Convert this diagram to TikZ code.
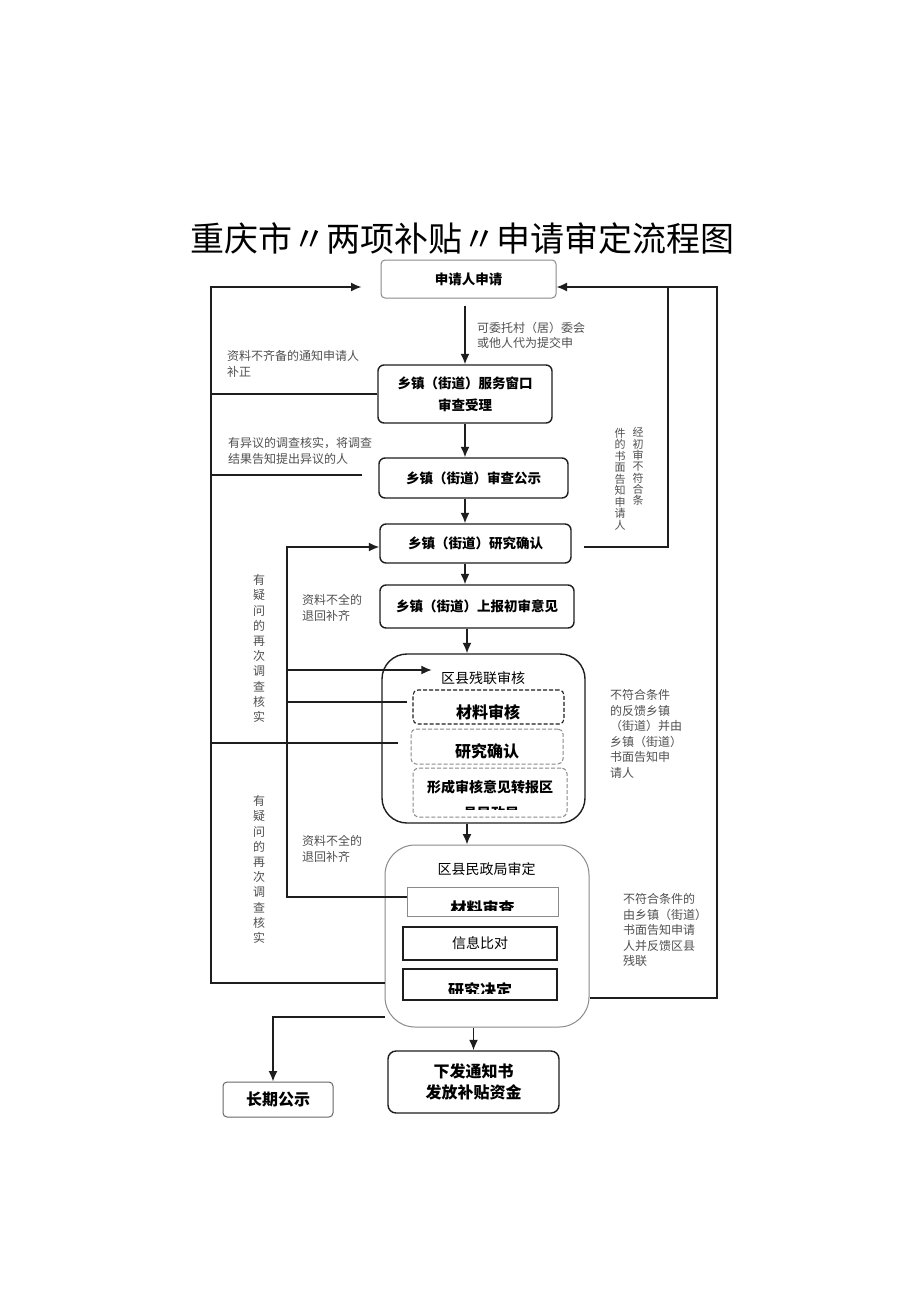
\documentclass[tikz,border=0pt]{standalone}
\usepackage{fontspec}
\setmainfont{Noto Sans CJK SC}
\usetikzlibrary{arrows.meta,calc}
\definecolor{lbl}{HTML}{505050}
\definecolor{dk}{HTML}{1E1E1E}
\definecolor{gy}{HTML}{8A8A8A}
\begin{document}
\begin{tikzpicture}[x=1pt,y=-1pt,
  conn/.style={draw=dk,line width=1.4pt},
  arr/.style={conn,-{Latex[length=10.5pt,width=9pt]}},
  box/.style={draw=dk,line width=1.4pt,rounded corners=6pt,inner sep=0pt,align=center},
  gbox/.style={box,draw=gy,line width=1pt},
  lt/.style={font=\fontsize{12}{15.5}\selectfont,text=lbl,align=left,inner sep=0pt,anchor=west},
  vt/.style={font=\fontsize{12}{15.2}\selectfont,text=lbl,align=center,inner sep=0pt},
  bt/.style={font=\bfseries\fontsize{13.5}{22}\selectfont},
  bb/.style={font=\bfseries\fontsize{16}{21}\selectfont},
  rt/.style={font=\fontsize{14}{20}\selectfont}
]
\useasboundingbox (0,0) rectangle (920,1301);
\fill[white] (0,0) rectangle (920,1301);

% title
\node[font=\fontsize{34}{40}\selectfont,inner sep=0pt] (title) at (462,238) {重庆市〃两项补贴〃申请审定流程图};

% main boxes
\node[gbox,rounded corners=4pt,minimum width=175pt,minimum height=38pt,bt] (b1) at (468.5,279) {申请人申请};
\node[box,minimum width=174pt,minimum height=58pt,bt] (b2) at (465,394) {乡镇（街道）服务窗口\\审查受理};
\node[box,minimum width=189pt,minimum height=40pt,bt] (b3) at (473.5,478) {乡镇（街道）审查公示};
\node[box,minimum width=191pt,minimum height=39pt,bt] (b4) at (475.5,543.5) {乡镇（街道）研究确认};
\node[box,minimum width=194pt,minimum height=43pt,bt] (b5) at (477,606.5) {乡镇（街道）上报初审意见};

% 区县残联审核
\node[box,rounded corners=25pt,minimum width=203pt,minimum height=169pt] (g6) at (483.5,738.5) {};
\node[rt,inner sep=0pt] (t6) at (483,678) {区县残联审核};
\node[box,dash pattern=on 4pt off 2pt,rounded corners=5pt,line width=1.1pt,minimum width=151pt,minimum height=34pt,bb] (i61) at (488.5,707) {};
\node[bb,inner sep=0pt] at (488,712) {材料审核};
\node[box,dash pattern=on 4pt off 2pt,draw=gy,rounded corners=5pt,line width=1pt,minimum width=152pt,minimum height=35pt] (i62) at (487,746.5) {};
\node[bb,inner sep=0pt] at (487,751) {研究确认};
\node[box,dash pattern=on 4pt off 2pt,draw=gy,rounded corners=6pt,line width=1pt,minimum width=154pt,minimum height=49pt] (i63) at (490,792.5) {};
\begin{scope}
  \clip (400,770) rectangle (580,809);
  \node[font=\bfseries\fontsize{14}{20}\selectfont,inner sep=0pt] at (490,787) {形成审核意见转报区};
  \node[font=\bfseries\fontsize{14}{20}\selectfont,inner sep=0pt] at (491,813) {县民政局};
\end{scope}

% 区县民政局审定
\node[gbox,rounded corners=30pt,minimum width=204pt,minimum height=182pt] (g7) at (487,936) {};
\node[rt,inner sep=0pt] (t7) at (486.5,869) {区县民政局审定};
\node[gbox,rounded corners=0pt,minimum width=151pt,minimum height=29pt] (i71) at (482.5,901.5) {};
\begin{scope}
  \clip (410,889) rectangle (556,910);
  \node[bb,inner sep=0pt] at (482.5,908) {材料审查};
\end{scope}
\node[box,rounded corners=0pt,line width=1.3pt,minimum width=154pt,minimum height=33pt,rt] (i72) at (480,943.5) {信息比对};
\node[box,rounded corners=0pt,line width=1.3pt,minimum width=154pt,minimum height=31pt] (i73) at (480,984.5) {};
\begin{scope}
  \clip (405,971) rectangle (555,993);
  \node[bb,inner sep=0pt] at (480,990) {研究决定};
\end{scope}

\node[box,rounded corners=8pt,minimum width=171pt,minimum height=62pt,font=\bfseries\fontsize{16}{21}\selectfont] (b8) at (473.5,1082) {下发通知书\\发放补贴资金};
\node[gbox,rounded corners=4pt,draw=black!60,minimum width=110pt,minimum height=35pt,bb] (b9) at (278,1099.5) {长期公示};

% vertical arrows
\coordinate (CX) at (465,0);
\coordinate (CY) at (467,0);
\draw[arr] ($(CX|-b1.south)+(0,7)$) -- (CX|-b2.north);
\draw[arr] (CX|-b2.south) -- (CX|-b3.north);
\draw[arr] (CX|-b3.south) -- (CX|-b4.north);
\draw[arr] (CX|-b4.south) -- (CX|-b5.north);
\draw[arr] (CY|-b5.south) -- (CY|-g6.north);
\draw[arr] (CY|-g6.south) -- (CY|-g7.north);
\draw[arr] (b8.north|-g7.south) -- (b8.north);

% left outer loop
\coordinate (LT) at (211,287);
\draw[arr] (g7.west|-0,983) -- (LT|-0,983) -- (LT) -- ([xshift=-19pt]b1.west|-LT);
\draw[conn] (b2.west) -- (b2.west-|LT);
\coordinate (p3) at ($(b3.west)+(-16,-3)$);
\draw[conn] (p3) -- (p3-|LT);
\coordinate (p743) at ($(i62.west)+(-13,-3.5)$);
\draw[conn] (p743) -- (p743-|LT);

% inner left loop
\coordinate (IX) at (287,547);
\draw[arr] ($(i71.west)+(0,-4.5)$) -| (IX) -- ($(b4.west)+(0,3.5)$);
\coordinate (p670) at ($(t6.west)+(-9,-8)$);
\draw[arr] (IX|-p670) -- (p670);
\coordinate (p702) at ($(i61.west)+(-5,-5)$);
\draw[conn] (p702) -- (IX|-p702);

% right loops
\coordinate (RT) at (717,287);
\coordinate (RI) at (668,287);
\draw[arr] (g7.east|-0,998) -| (RT) -- (b1.east|-RT);
\draw[conn] ($(i63.east)+(0,3.5)$) -- ($(i63.east)+(0,3.5)$-|RT);
\draw[conn] ($(b4.east)+(12,3.5)$) -| (RI);

% bottom
\draw[arr] (g7.west|-0,1017) -| ($(b9.north)+(-5,0)$);

% labels
\node[lt] (l1) at (227,364) {资料不齐备的通知申请人\\补正};
\node[lt] (l2) at (228,451) {有异议的调查核实，将调查\\结果告知提出异议的人};
\node[lt] (l3) at (477,335.5) {可委托村（居）委会\\或他人代为提交申};
\node[lt] (l4) at (302,608) {资料不全的\\退回补齐};
\node[lt] (l5) at (302,849) {资料不全的\\退回补齐};
\node[vt] (v1) at (259,648.5) {有\\疑\\问\\的\\再\\次\\调\\查\\核\\实};
\node[vt] (v2) at (259,869.5) {有\\疑\\问\\的\\再\\次\\调\\查\\核\\实};
\node[vt,font=\fontsize{11}{11.3}\selectfont] (v3) at (638,466.5) {经\\初\\审\\不\\符\\合\\条};
\node[vt,font=\fontsize{11}{11.5}\selectfont] (v4) at (620,479) {件\\的\\书\\面\\告\\知\\申\\请\\人};
\node[lt,font=\fontsize{12}{15.6}\selectfont] (l9) at (610,734) {不符合条件\\的反馈乡镇\\（街道）并由\\乡镇（街道）\\书面告知申\\请人};
\node[lt,font=\fontsize{12}{15.5}\selectfont] (l10) at (623,930) {不符合条件的\\由乡镇（街道）\\书面告知申请\\人并反馈区县\\残联};
\end{tikzpicture}
\end{document}
